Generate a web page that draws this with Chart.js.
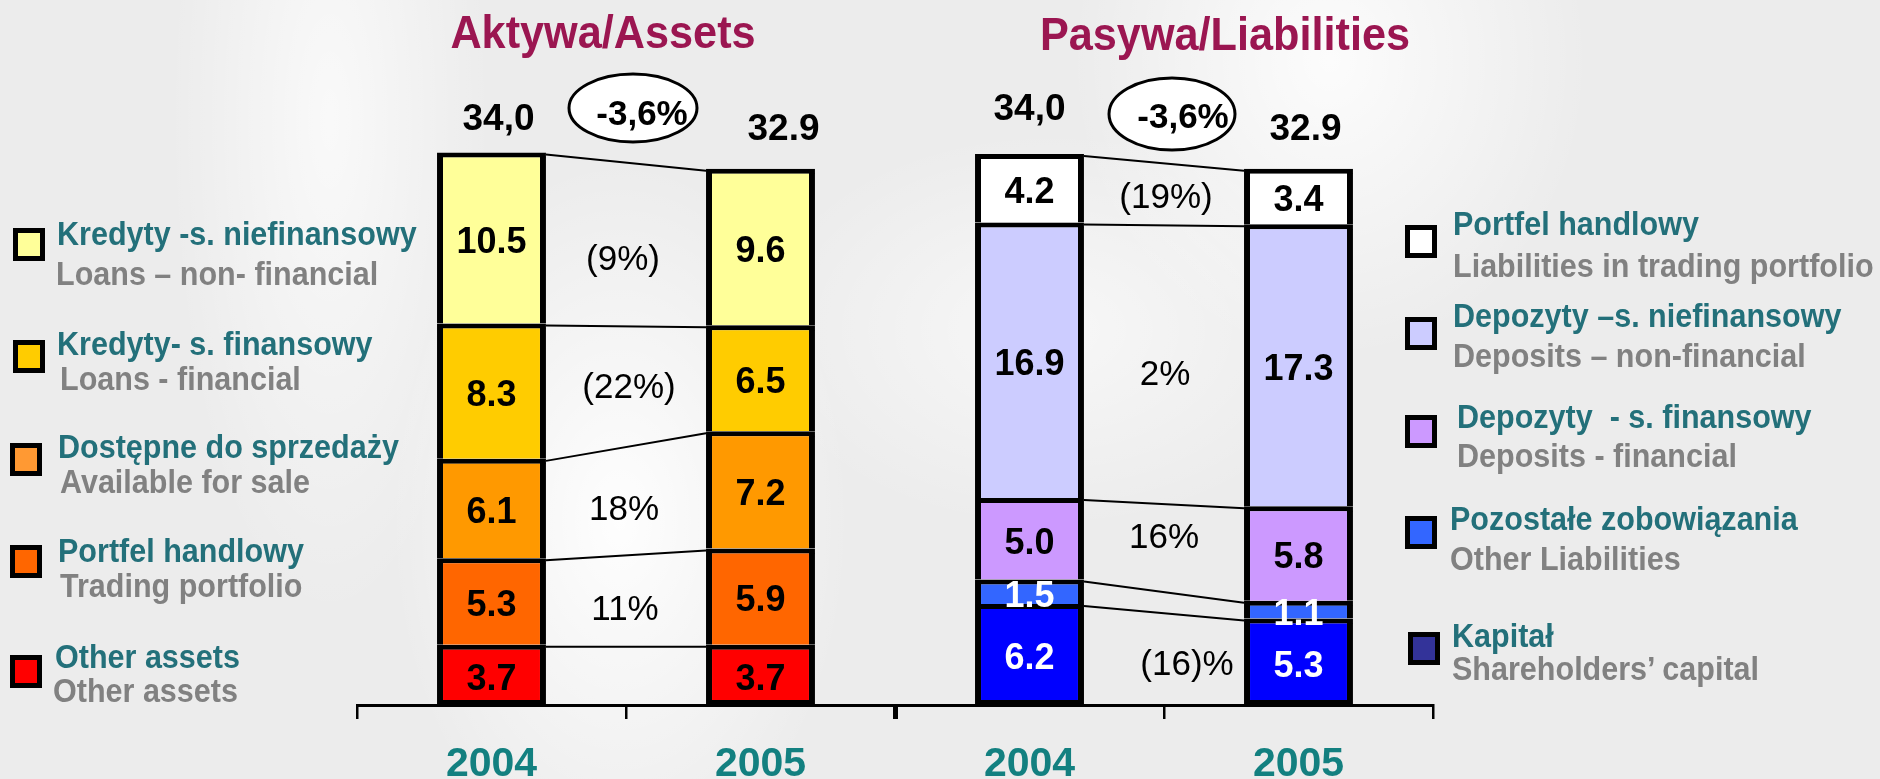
<!DOCTYPE html>
<html><head><meta charset="utf-8">
<script src="https://cdn.jsdelivr.net/npm/chart.js@4.4.1/dist/chart.umd.min.js"></script>
<style>
html,body{margin:0;padding:0;}
body{width:1880px;height:779px;overflow:hidden;position:relative;font-family:"Liberation Sans",Arial,sans-serif;
background:
 radial-gradient(ellipse 230px 360px at 620px 520px, rgba(255,255,255,0.95), rgba(255,255,255,0) 100%),
 radial-gradient(ellipse 260px 300px at 1330px 60px, rgba(255,255,255,0.85), rgba(255,255,255,0) 100%),
 radial-gradient(ellipse 160px 500px at 330px 120px, rgba(255,255,255,0.7), rgba(255,255,255,0) 100%),
 radial-gradient(ellipse 300px 200px at 1050px 330px, rgba(255,255,255,0.6), rgba(255,255,255,0) 100%),
 #ececec;}
#c{position:absolute;left:0;top:0;}
.t{position:absolute;white-space:pre;line-height:1;font-weight:bold;transform-origin:0 0;}
.title{position:absolute;white-space:pre;line-height:1;font-weight:bold;text-align:center;width:700px;transform-origin:50% 0;color:#9B1651;font-size:47px;transform:scaleX(0.92);}
.sw{position:absolute;box-sizing:border-box;border:5px solid #000;width:32px;height:33px;}
</style></head><body>
<canvas id="c" width="1880" height="779"></canvas>
<div id="overlay"></div>
<script>
// ---- data ----
const categories = ['2004', '2005', '2004', '2005'];
// Aktywa / Assets (bottom to top)
const otherAssets      = [3.7, 3.7, null, null];
const tradingPortfolio = [5.3, 5.9, null, null];
const availableForSale = [6.1, 7.2, null, null];
const loansFinancial   = [8.3, 6.5, null, null];
const loansNonFinancial= [10.5, 9.6, null, null];
// Pasywa / Liabilities (bottom to top)
const capital          = [null, null, 6.2, 5.3];
const otherLiabilities = [null, null, 1.5, 1.1];
const depositsFinancial= [null, null, 5.0, 5.8];
const depositsNonFin   = [null, null, 16.9, 17.3];
const tradingLiabilities=[null, null, 4.2, 3.4];
// totals and changes as printed
const totalLabels = ['34,0', '32.9', '34,0', '32.9'];
const totalChange = ['-3,6%', '-3,6%'];
const assetChanges = ['(9%)', '(22%)', '18%', '11%'];
const liabilityChanges = ['(19%)', '2%', '16%', '(16)%'];
// titles & legend texts
const titles = ['Aktywa/Assets', 'Pasywa/Liabilities'];
const assetLegendPl = ['Kredyty -s. niefinansowy', 'Kredyty- s. finansowy', 'Dostępne do sprzedaży', 'Portfel handlowy', 'Other assets'];
const assetLegendEn = ['Loans – non- financial', 'Loans - financial', 'Available for sale', 'Trading portfolio', 'Other assets'];
const liabLegendPl = ['Portfel handlowy', 'Depozyty –s. niefinansowy', 'Depozyty  - s. finansowy', 'Pozostałe zobowiązania', 'Kapitał'];
const liabLegendEn = ['Liabilities in trading portfolio', 'Deposits – non-financial', 'Deposits - financial', 'Other Liabilities', 'Shareholders’ capital'];

// ---- styles ----
const FONT = '"Liberation Sans", Arial, Helvetica, sans-serif';
const assetLegendColors = ['#FFFF99', '#FFCC00', '#FF9933', '#FF6600', '#FF0000'];
const liabLegendColors = ['#FFFFFF', '#CCCCFF', '#CC99FF', '#3366FF', '#333399'];

function mk(label, data, color, labelColor, bottom) {
  return {label, data, backgroundColor: color, borderColor: '#000',
    borderWidth: {top: 5, left: 6, right: 6, bottom: bottom ? 5 : 0},
    borderSkipped: false, stack: 's', labelColor};
}
const datasets = [
  mk('Other assets', otherAssets, '#FF0000', '#000', true),
  mk('Trading portfolio', tradingPortfolio, '#FF6600', '#000'),
  mk('Available for sale', availableForSale, '#FF9900', '#000'),
  mk('Loans - financial', loansFinancial, '#FFCC00', '#000'),
  mk('Loans – non- financial', loansNonFinancial, '#FFFF99', '#000'),
  mk('Shareholders’ capital', capital, '#0000FF', '#FFF', true),
  mk('Other Liabilities', otherLiabilities, '#3366FF', '#FFF'),
  mk('Deposits - financial', depositsFinancial, '#CC99FF', '#000'),
  mk('Deposits – non-financial', depositsNonFin, '#CCCCFF', '#000'),
  mk('Liabilities in trading portfolio', tradingLiabilities, '#FFFFFF', '#000'),
];

const annot = {
  id: 'annot',
  afterDatasetsDraw(chart) {
    const ctx = chart.ctx;
    const x = chart.scales.x;
    ctx.save();
    // connectors
    ctx.strokeStyle = '#000'; ctx.lineWidth = 2;
    [[0, 1, [0,1,2,3,4]], [2, 3, [5,6,7,8,9]]].forEach(([a, b, list]) => {
      list.forEach(di => {
        const m = chart.getDatasetMeta(di);
        const p = m.data[a].getProps(['x','y','width'], true);
        const q = m.data[b].getProps(['x','y','width'], true);
        ctx.beginPath();
        ctx.moveTo(p.x + p.width / 2, p.y + 2);
        ctx.lineTo(q.x - q.width / 2, q.y + 2);
        ctx.stroke();
      });
    });
    // value labels
    ctx.font = 'bold 36px ' + FONT;
    ctx.textAlign = 'center'; ctx.textBaseline = 'alphabetic';
    chart.data.datasets.forEach((d, di) => {
      chart.getDatasetMeta(di).data.forEach((bar, i) => {
        const v = d.data[i]; if (v == null) return;
        const pr = bar.getProps(['x','y','base'], true);
        ctx.fillStyle = d.labelColor;
        ctx.fillText(v.toFixed(1), pr.x, (pr.y + pr.base) / 2 + 2 + 0.358 * 36);
      });
    });
    // totals
    ctx.fillStyle = '#000';
    ctx.font = 'bold 37px ' + FONT;
    const tdx = [7, 23, 0, 7], tby = [130, 140, 120, 140];
    totalLabels.forEach((t, i) => ctx.fillText(t, x.getPixelForValue(i) + tdx[i], tby[i]));
    // ellipses
    const ell = [[633, 108, 64, 34, 642, 125], [1172, 114, 63, 36, 1183, 128]];
    ell.forEach((e, i) => {
      ctx.beginPath(); ctx.ellipse(e[0], e[1], e[2], e[3], 0, 0, Math.PI * 2);
      ctx.fillStyle = '#FFFFFF'; ctx.fill();
      ctx.lineWidth = 3; ctx.strokeStyle = '#000'; ctx.stroke();
      ctx.fillStyle = '#000'; ctx.font = 'bold 35px ' + FONT;
      ctx.fillText(totalChange[i], e[4], e[5]);
    });
    // change labels
    ctx.font = '35px ' + FONT;
    const midA = (x.getPixelForValue(0) + x.getPixelForValue(1)) / 2;
    const midL = (x.getPixelForValue(2) + x.getPixelForValue(3)) / 2;
    const aPos = [[-3, 270], [3, 398], [-2, 520], [-1, 620]];
    const lPos = [[2, 208], [1, 385], [0, 548], [23, 675]];
    assetChanges.forEach((t, i) => ctx.fillText(t, midA + aPos[i][0], aPos[i][1]));
    liabilityChanges.forEach((t, i) => ctx.fillText(t, midL + lPos[i][0], lPos[i][1]));
    ctx.restore();
  }
};

new Chart(document.getElementById('c'), {
  type: 'bar',
  data: {labels: categories, datasets},
  options: {
    responsive: false, animation: false, devicePixelRatio: 1,
    layout: {padding: {left: 357, right: 447, top: 53, bottom: 0}},
    datasets: {bar: {categoryPercentage: 1, barPercentage: 0.405}},
    plugins: {legend: {display: false}, tooltip: {enabled: false}},
    scales: {
      x: {stacked: true, offset: true,
        afterFit: s => { s.height = 74; },
        grid: {display: true, drawOnChartArea: false, drawTicks: true, tickLength: 14, offset: true,
               color: '#000', lineWidth: c => (c.index === 2 ? 5 : 2.5)},
        border: {display: true, color: '#000', width: 3},
        ticks: {color: '#138080', font: {family: FONT, size: 41, weight: 'bold'}, padding: 21, maxRotation: 0, autoSkip: false}},
      y: {stacked: true, display: false, min: 0, max: 40}
    }
  },
  plugins: [annot]
});

// ---- HTML titles & legends ----
const ov = document.getElementById('overlay');
function txt(s, x, baseline, size, color, scale) {
  const d = document.createElement('div');
  d.className = 't'; d.textContent = s;
  d.style.left = x + 'px'; d.style.top = (baseline - 0.8465 * size) + 'px';
  d.style.fontSize = size + 'px'; d.style.color = color;
  d.style.transform = 'scaleX(' + scale + ')';
  ov.appendChild(d);
}
function title(s, cx, baseline) {
  const d = document.createElement('div');
  d.className = 'title'; d.textContent = s;
  d.style.left = (cx - 350) + 'px'; d.style.top = (baseline - 0.8465 * 47) + 'px';
  ov.appendChild(d);
}
function sw(x, y, color) {
  const d = document.createElement('div');
  d.className = 'sw'; d.style.left = x + 'px'; d.style.top = y + 'px'; d.style.background = color;
  ov.appendChild(d);
}
title(titles[0], 603, 48);
title(titles[1], 1225, 50);
const TEAL = '#23707A', GREY = '#818181';
const aLay = [[13,228,57,245,56,285],[13,340,57,355,60,390],[10,443,58,458,60,493],[10,545,58,562,60,597],[10,655,55,668,53,702]];
aLay.forEach((L, i) => {
  sw(L[0], L[1], assetLegendColors[i]);
  txt(assetLegendPl[i], L[2], L[3], 33, TEAL, 0.925);
  txt(assetLegendEn[i], L[4], L[5], 33, GREY, 0.925);
});
const lLay = [[1405,225,1453,235,1453,277],[1405,317,1453,327,1453,367],[1405,415,1457,428,1457,467],[1405,516,1450,530,1450,570],[1408,632,1452,647,1452,680]];
lLay.forEach((L, i) => {
  sw(L[0], L[1], liabLegendColors[i]);
  txt(liabLegendPl[i], L[2], L[3], 33, TEAL, 0.925);
  txt(liabLegendEn[i], L[4], L[5], 33, GREY, 0.925);
});
</script>
</body></html>
